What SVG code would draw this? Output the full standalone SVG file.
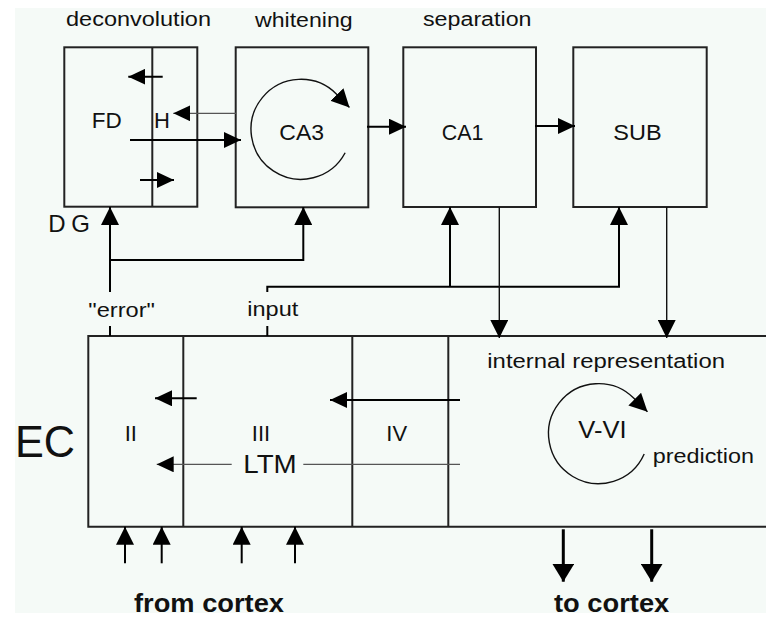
<svg xmlns="http://www.w3.org/2000/svg" width="766" height="621" viewBox="0 0 766 621">
<defs>
<style>
.t{font-family:"Liberation Sans",Arial,sans-serif;fill:#111;}
.b{font-weight:bold;}
.box{fill:none;stroke:#222;stroke-width:2;}
.ln{fill:none;stroke:#000;stroke-width:2;}
.th{fill:none;stroke:#555;stroke-width:1.2;}
.md{fill:none;stroke:#111;stroke-width:1.4;}
.fat{fill:none;stroke:#000;stroke-width:3;}
</style>
<marker id="ah" markerUnits="userSpaceOnUse" viewBox="0 0 18 18" refX="18" refY="9" markerWidth="18" markerHeight="18" orient="auto"><path d="M0,0 L18,9 L0,18 z" fill="#000"/></marker>
<marker id="ahs" markerUnits="userSpaceOnUse" viewBox="0 0 17 16" refX="17" refY="8" markerWidth="17" markerHeight="16" orient="auto"><path d="M0,0 L17,8 L0,16 z" fill="#000"/></marker>
<marker id="ahb" markerUnits="userSpaceOnUse" viewBox="0 0 18 22" refX="18" refY="11" markerWidth="18" markerHeight="22" orient="auto"><path d="M0,0 L18,11 L0,22 z" fill="#000"/></marker>
</defs>
<rect x="0" y="0" width="766" height="621" fill="#ffffff"/>
<rect x="15" y="8" width="751" height="605" fill="#f5faf7"/>

<text class="t" x="66" y="26" font-size="20" textLength="145" lengthAdjust="spacingAndGlyphs">deconvolution</text>
<text class="t" x="255" y="26.5" font-size="20" textLength="97.7" lengthAdjust="spacingAndGlyphs">whitening</text>
<text class="t" x="423" y="26" font-size="20" textLength="108.5" lengthAdjust="spacingAndGlyphs">separation</text>

<g id="DG">
<rect class="box" x="64.3" y="47.3" width="133" height="159.4"/>
<line class="box" x1="152.3" y1="47.3" x2="152.3" y2="206.7"/>
<text class="t" x="91.7" y="127.7" font-size="22" textLength="30" lengthAdjust="spacingAndGlyphs">FD</text>
<text class="t" x="154" y="127.7" font-size="22">H</text>
<text class="t" x="48.3" y="231.7" font-size="24" textLength="41.7">DG</text>
</g>
<g id="CA3">
<rect class="box" x="235.7" y="47.3" width="132.6" height="160"/>
<text class="t" x="279.3" y="140" font-size="22" textLength="44.7" lengthAdjust="spacingAndGlyphs">CA3</text>
</g>
<g id="CA1">
<rect class="box" x="403.3" y="47.3" width="132.7" height="159.7"/>
<text class="t" x="441.7" y="140" font-size="22" textLength="41.7" lengthAdjust="spacingAndGlyphs">CA1</text>
</g>
<g id="SUB">
<rect class="box" x="573.3" y="47.3" width="133.4" height="159.7"/>
<text class="t" x="613.3" y="140" font-size="22" textLength="48.3" lengthAdjust="spacingAndGlyphs">SUB</text>
</g>
<g id="EC">
<path class="box" d="M766,336 H88.3 V526.7 H766"/>
<line class="box" x1="183.3" y1="336" x2="183.3" y2="526.7"/>
<line class="box" x1="352.3" y1="336" x2="352.3" y2="526.7"/>
<line class="box" x1="448.3" y1="336" x2="448.3" y2="526.7"/>
<text class="t" x="15" y="456.7" font-size="45" textLength="60" lengthAdjust="spacingAndGlyphs">EC</text>
<text class="t" x="130.8" y="440.7" font-size="22" text-anchor="middle">II</text>
<text class="t" x="261" y="440.7" font-size="22" text-anchor="middle">III</text>
<text class="t" x="396.7" y="440.7" font-size="22" text-anchor="middle">IV</text>
<text class="t" x="243.3" y="473.3" font-size="26" textLength="53.4" lengthAdjust="spacingAndGlyphs">LTM</text>
<text class="t" x="487.3" y="368.3" font-size="20" textLength="237.7" lengthAdjust="spacingAndGlyphs">internal representation</text>
<text class="t" x="578.3" y="438.3" font-size="24" textLength="48.3" lengthAdjust="spacingAndGlyphs">V-VI</text>
<text class="t" x="652.7" y="463.3" font-size="20" textLength="101.3" lengthAdjust="spacingAndGlyphs">prediction</text>
</g>

<text class="t" x="88.3" y="316.7" font-size="20" textLength="66.7" lengthAdjust="spacingAndGlyphs">"error"</text>
<text class="t" x="247.3" y="316" font-size="20" textLength="51" lengthAdjust="spacingAndGlyphs">input</text>
<text class="t b" x="134" y="612.3" font-size="26" textLength="150" lengthAdjust="spacingAndGlyphs">from cortex</text>
<text class="t b" x="554" y="612" font-size="26" textLength="115.3" lengthAdjust="spacingAndGlyphs">to cortex</text>

<g id="connectors">
<path class="ln" d="M162.7,76.7 H128.3" marker-end="url(#ahs)"/>
<path class="ln" d="M130,140 H241" marker-end="url(#ahs)"/>
<path class="ln" d="M140,180 H174" marker-end="url(#ahs)"/>
<path class="th" d="M236,113.3 H173.3" marker-end="url(#ahs)"/>
<path class="ln" d="M367,126.7 H406" marker-end="url(#ahs)"/>
<path class="ln" d="M535,126 H575" marker-end="url(#ahs)"/>
<path class="md" d="M345.15,152.77 A50,50 0 1 1 336.36,93.94 L349.5,107.5" marker-end="url(#ah)"/>
<path class="md" d="M644.2,454 A50,50 0 1 1 633.9,398.3 L647.5,411.8" marker-end="url(#ah)"/>
<path class="ln" d="M110,292 V207" marker-end="url(#ah)"/>
<path class="ln" d="M110,260 H303.3 V207" marker-end="url(#ah)"/>
<path class="ln" d="M110,326 V336"/>
<path class="ln" d="M267.3,326 V336"/>
<path class="ln" d="M267.3,292 V286.7 H619 V207" marker-end="url(#ah)"/>
<path class="ln" d="M450,286.7 V207" marker-end="url(#ah)"/>
<path class="md" d="M499.3,207 V338" marker-end="url(#ah)"/>
<path class="md" d="M666.7,207 V338" marker-end="url(#ah)"/>
<path class="ln" d="M196.7,398.3 H155" marker-end="url(#ahs)"/>
<path class="ln" d="M460,400 H330" marker-end="url(#ahs)"/>
<path class="th" d="M460,464.3 H303.3"/>
<path class="th" d="M231.7,464.3 H156.7" marker-end="url(#ahs)"/>
<path class="ln" d="M125,563.3 V526.7" marker-end="url(#ah)"/>
<path class="ln" d="M161.7,563.3 V526.7" marker-end="url(#ah)"/>
<path class="ln" d="M241.7,563.3 V526.7" marker-end="url(#ah)"/>
<path class="ln" d="M295,563.3 V526.7" marker-end="url(#ah)"/>
<path class="fat" d="M563.3,529.3 V581.7" marker-end="url(#ahb)"/>
<path class="fat" d="M651.7,529.3 V581.7" marker-end="url(#ahb)"/>
</g>
</svg>
